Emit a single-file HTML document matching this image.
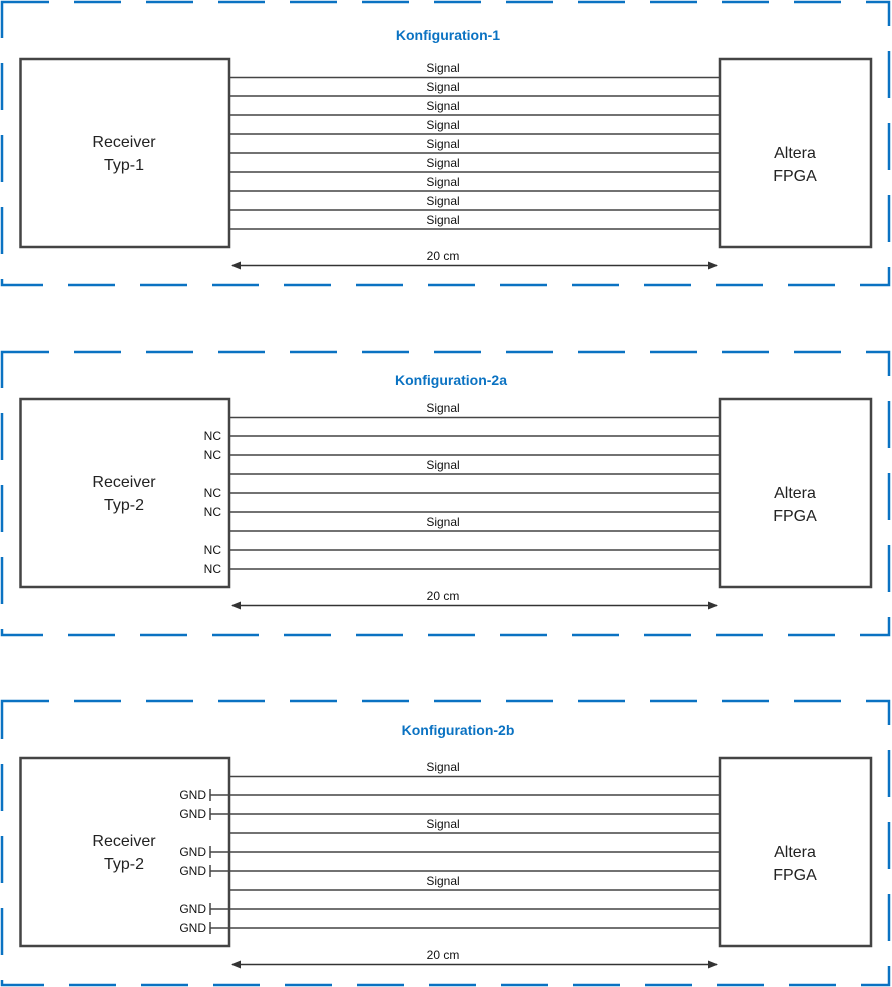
<!DOCTYPE html>
<html><head><meta charset="utf-8"><style>
body{margin:0;background:#fff}
svg{display:block}
text{font-family:"Liberation Sans",sans-serif}
.s{font-size:12px;fill:#111;text-anchor:middle}
.n{font-size:12px;fill:#111;text-anchor:end}
.b{font-size:16px;fill:#222;text-anchor:middle}
.t{font-size:14px;font-weight:bold;fill:#0a72c2;text-anchor:middle}
</style></head><body>
<svg width="892" height="987" viewBox="0 0 892 987" xmlns="http://www.w3.org/2000/svg">
<defs>
<marker id="a" markerWidth="10" markerHeight="8" refX="9" refY="4" orient="auto" markerUnits="userSpaceOnUse"><path d="M0,0 L10,4 L0,8z" fill="#333"/></marker>
<marker id="a2" markerWidth="10" markerHeight="8" refX="1" refY="4" orient="auto" markerUnits="userSpaceOnUse"><path d="M10,0 L0,4 L10,8z" fill="#333"/></marker>
<g id="frame">
<rect x="20.5" y="59" width="208.5" height="188" fill="#fff" stroke="#444" stroke-width="2.5"/>
<rect x="720" y="59" width="151" height="188" fill="#fff" stroke="#444" stroke-width="2.5"/>
<g stroke="#444" stroke-width="1.5">
<line x1="230" y1="77.5" x2="719" y2="77.5"/><line x1="230" y1="96" x2="719" y2="96"/><line x1="230" y1="115" x2="719" y2="115"/><line x1="230" y1="134" x2="719" y2="134"/><line x1="230" y1="153" x2="719" y2="153"/><line x1="230" y1="172" x2="719" y2="172"/><line x1="230" y1="191" x2="719" y2="191"/><line x1="230" y1="210" x2="719" y2="210"/><line x1="230" y1="229" x2="719" y2="229"/>
</g>
<line x1="232" y1="265.5" x2="717" y2="265.5" stroke="#333" stroke-width="1.5" marker-end="url(#a)" marker-start="url(#a2)"/>
<text class="s" x="443" y="260">20 cm</text>
<text class="b" x="124" y="147">Receiver</text>
<text class="b" x="795" y="158">Altera</text>
<text class="b" x="795" y="181">FPGA</text>
</g>
</defs>
<rect x="2" y="2" width="887" height="283" fill="none" stroke="#0a72c2" stroke-width="2.5" stroke-dasharray="47,25"/>
<use href="#frame"/>
<text class="t" x="448" y="40">Konfiguration-1</text>
<text class="b" x="124" y="170">Typ-1</text>
<g class="s"><text class="s" x="443" y="72">Signal</text><text class="s" x="443" y="91">Signal</text><text class="s" x="443" y="110">Signal</text><text class="s" x="443" y="129">Signal</text><text class="s" x="443" y="148">Signal</text><text class="s" x="443" y="167">Signal</text><text class="s" x="443" y="186">Signal</text><text class="s" x="443" y="205">Signal</text><text class="s" x="443" y="224">Signal</text></g>

<g transform="translate(0,340)">
<rect x="2" y="12" width="887" height="283" fill="none" stroke="#0a72c2" stroke-width="2.5" stroke-dasharray="47,25"/>
<use href="#frame"/>
<text class="t" x="451" y="45">Konfiguration-2a</text>
<text class="b" x="124" y="170">Typ-2</text>
<text class="s" x="443" y="72">Signal</text><text class="s" x="443" y="129">Signal</text><text class="s" x="443" y="186">Signal</text>
<text class="n" x="221" y="100">NC</text><text class="n" x="221" y="119">NC</text><text class="n" x="221" y="157">NC</text><text class="n" x="221" y="176">NC</text><text class="n" x="221" y="214">NC</text><text class="n" x="221" y="233">NC</text>
</g>

<g transform="translate(0,699)">
<rect x="2" y="2" width="887" height="284" fill="none" stroke="#0a72c2" stroke-width="2.5" stroke-dasharray="47,25"/>
<use href="#frame"/>
<text class="t" x="458" y="36">Konfiguration-2b</text>
<text class="b" x="124" y="170">Typ-2</text>
<text class="s" x="443" y="72">Signal</text><text class="s" x="443" y="129">Signal</text><text class="s" x="443" y="186">Signal</text>
<g stroke="#444" stroke-width="1.5">
<line x1="210" y1="96" x2="229" y2="96"/><line x1="210" y1="90" x2="210" y2="102"/>
<line x1="210" y1="115" x2="229" y2="115"/><line x1="210" y1="109" x2="210" y2="121"/>
<line x1="210" y1="153" x2="229" y2="153"/><line x1="210" y1="147" x2="210" y2="159"/>
<line x1="210" y1="172" x2="229" y2="172"/><line x1="210" y1="166" x2="210" y2="178"/>
<line x1="210" y1="210" x2="229" y2="210"/><line x1="210" y1="204" x2="210" y2="216"/>
<line x1="210" y1="229" x2="229" y2="229"/><line x1="210" y1="223" x2="210" y2="235"/>
</g>
<text class="n" x="206" y="100">GND</text><text class="n" x="206" y="119">GND</text><text class="n" x="206" y="157">GND</text><text class="n" x="206" y="176">GND</text><text class="n" x="206" y="214">GND</text><text class="n" x="206" y="233">GND</text>
</g>
</svg>
</body></html>
